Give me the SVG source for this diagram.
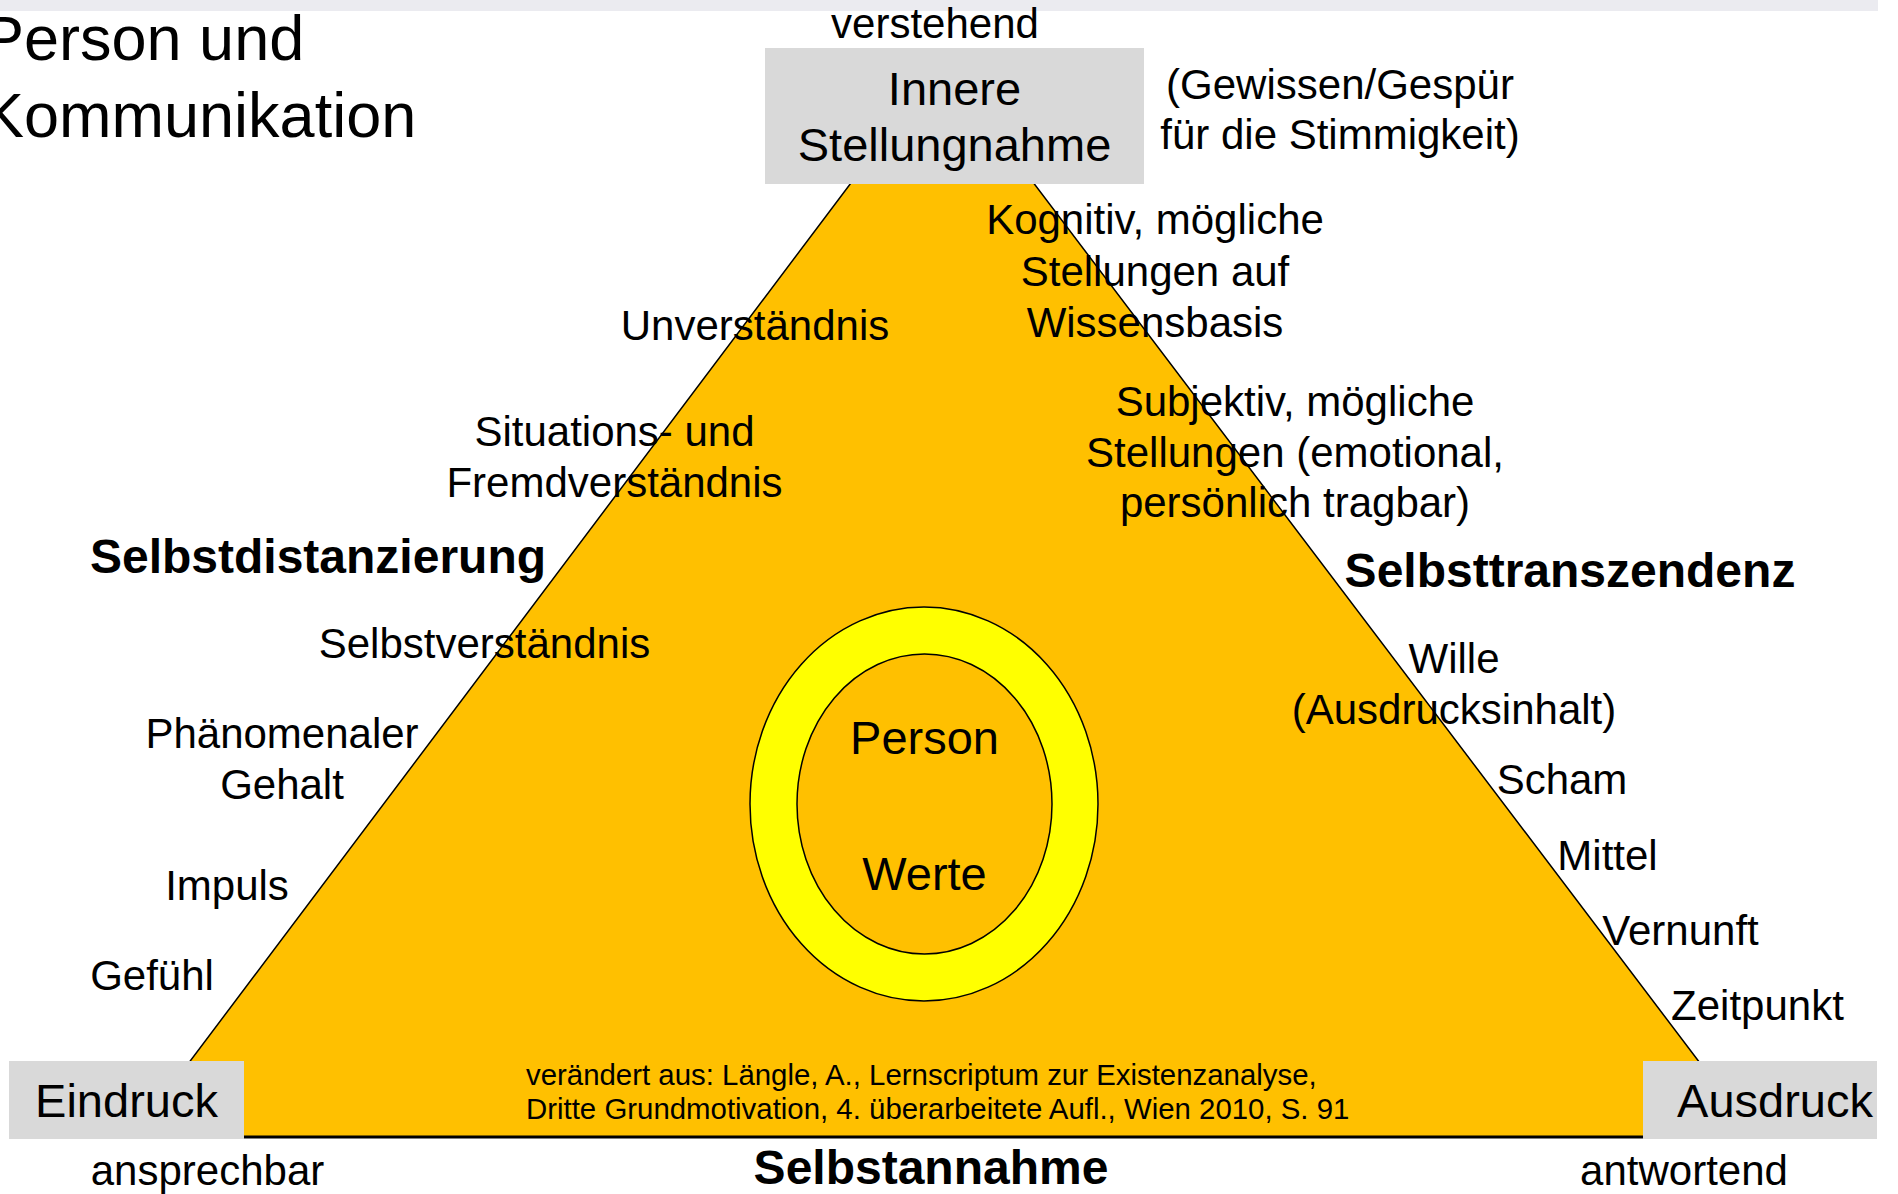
<svg xmlns="http://www.w3.org/2000/svg" width="1898" height="1194" viewBox="0 0 1898 1194">
<style>
text{font-family:"Liberation Sans",Arial,sans-serif;fill:#000}
.t{font-size:42px}
.c{text-anchor:middle}
.b{font-size:48px;font-weight:bold;text-anchor:middle}
.n{font-size:47px;text-anchor:middle}
.box{fill:#D9D9D9}
.cite{font-size:29.4px}
</style>
<rect x="0" y="0" width="1878" height="11" fill="#EBEBF0"/>
<g id="title">
<text x="-18" y="60" style="font-size:63px">Person und</text>
<text x="-18" y="137" style="font-size:63px">Kommunikation</text>
</g>
<g id="connectors">
<polygon points="942,62 1756,1137 133,1137" fill="#FFC000" stroke="#000" stroke-width="1.5"/>
<line x1="133" y1="1137" x2="1756" y2="1137" stroke="#000" stroke-width="3"/>
</g>
<g id="person">
<ellipse cx="924" cy="804" rx="174" ry="197" fill="#FFFF00" stroke="#000" stroke-width="1.5"/>
<ellipse cx="924.5" cy="804" rx="127.5" ry="150" fill="#FFC000" stroke="#000" stroke-width="1.5"/>
<text class="n" x="924.5" y="754">Person</text>
<text class="n" x="924.5" y="890">Werte</text>
</g>
<g id="innere">
<rect class="box" x="765" y="48" width="379" height="136"/>
<text class="n" x="954.5" y="105">Innere</text>
<text class="n" x="954.5" y="161">Stellungnahme</text>
<text class="t c" x="935" y="38">verstehend</text>
<text class="t c" x="1340" y="99">(Gewissen/Gespür</text>
<text class="t c" x="1340" y="149">für die Stimmigkeit)</text>
</g>
<g id="eindruck">
<rect class="box" x="9" y="1061" width="235" height="78"/>
<text class="n" x="126.5" y="1117">Eindruck</text>
<text class="t c" x="207.5" y="1185">ansprechbar</text>
</g>
<g id="ausdruck">
<rect class="box" x="1643" y="1061" width="234" height="78"/>
<text class="n" x="1775" y="1117">Ausdruck</text>
<text class="t c" x="1684" y="1185">antwortend</text>
</g>
<g id="selbstdistanzierung">
<text class="b" x="318" y="573">Selbstdistanzierung</text>
<text class="t c" x="755" y="340">Unverständnis</text>
<text class="t c" x="614.5" y="446">Situations- und</text>
<text class="t c" x="614.5" y="497">Fremdverständnis</text>
<text class="t c" x="484.5" y="658">Selbstverständnis</text>
<text class="t c" x="282" y="748">Phänomenaler</text>
<text class="t c" x="282" y="799">Gehalt</text>
<text class="t c" x="227" y="900">Impuls</text>
<text class="t c" x="152" y="990">Gefühl</text>
</g>
<g id="selbsttranszendenz">
<text class="b" x="1570" y="587">Selbsttranszendenz</text>
<text class="t c" x="1155" y="234">Kognitiv, mögliche</text>
<text class="t c" x="1155" y="286">Stellungen auf</text>
<text class="t c" x="1155" y="337">Wissensbasis</text>
<text class="t c" x="1295" y="416">Subjektiv, mögliche</text>
<text class="t c" x="1295" y="467">Stellungen (emotional,</text>
<text class="t c" x="1295" y="517">persönlich tragbar)</text>
<text class="t c" x="1454" y="673">Wille</text>
<text class="t c" x="1454" y="724">(Ausdrucksinhalt)</text>
<text class="t c" x="1562" y="794">Scham</text>
<text class="t c" x="1607.5" y="870">Mittel</text>
<text class="t c" x="1680.5" y="945">Vernunft</text>
<text class="t c" x="1757.5" y="1020">Zeitpunkt</text>
</g>
<g id="selbstannahme">
<text class="b" x="931" y="1184">Selbstannahme</text>
<text class="cite" x="526" y="1085">verändert aus: Längle, A., Lernscriptum zur Existenzanalyse,</text>
<text class="cite" x="526" y="1119">Dritte Grundmotivation, 4. überarbeitete Aufl., Wien 2010, S. 91</text>
</g>
</svg>
